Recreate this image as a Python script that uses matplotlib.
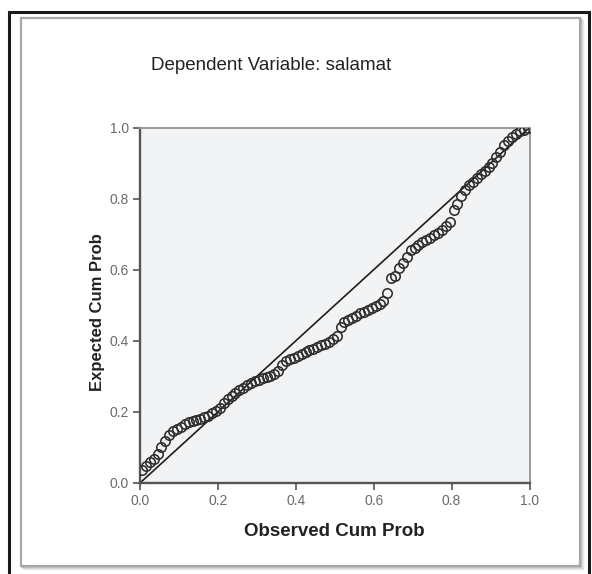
import matplotlib
matplotlib.use("Agg")
import matplotlib.pyplot as plt
from matplotlib.patches import Rectangle

plt.rcParams['font.family'] = ['Liberation Sans', 'DejaVu Sans']

# observed cumulative probability (x) and expected cumulative probability (y)
observed = [
    0.005, 0.015, 0.025, 0.035, 0.045, 0.055, 0.065, 0.075, 0.085, 0.095,
    0.105, 0.115, 0.125, 0.135, 0.145, 0.155, 0.165, 0.175, 0.185, 0.195,
    0.205, 0.215, 0.225, 0.235, 0.245, 0.255, 0.265, 0.275, 0.285, 0.295,
    0.305, 0.315, 0.325, 0.335, 0.345, 0.355, 0.365, 0.375, 0.385, 0.395,
    0.405, 0.415, 0.425, 0.435, 0.445, 0.455, 0.465, 0.475, 0.485, 0.495,
    0.505, 0.515, 0.525, 0.535, 0.545, 0.555, 0.565, 0.575, 0.585, 0.595,
    0.605, 0.615, 0.625, 0.635, 0.645, 0.655, 0.665, 0.675, 0.685, 0.695,
    0.705, 0.715, 0.725, 0.735, 0.745, 0.755, 0.765, 0.775, 0.785, 0.795,
    0.805, 0.815, 0.825, 0.835, 0.845, 0.855, 0.865, 0.875, 0.885, 0.895,
    0.905, 0.915, 0.925, 0.935, 0.945, 0.955, 0.965, 0.975, 0.985, 0.995,
]
expected = [
    0.036, 0.048, 0.058, 0.068, 0.082, 0.100, 0.118, 0.135, 0.145, 0.152,
    0.158, 0.166, 0.172, 0.175, 0.177, 0.180, 0.185, 0.189, 0.196, 0.203,
    0.212, 0.224, 0.235, 0.244, 0.253, 0.261, 0.268, 0.276, 0.281, 0.286,
    0.290, 0.294, 0.298, 0.301, 0.306, 0.315, 0.332, 0.343, 0.349, 0.353,
    0.358, 0.363, 0.369, 0.374, 0.378, 0.383, 0.388, 0.392, 0.398, 0.405,
    0.414, 0.440, 0.452, 0.459, 0.465, 0.471, 0.477, 0.482, 0.487, 0.492,
    0.498, 0.503, 0.512, 0.534, 0.578, 0.583, 0.605, 0.618, 0.635, 0.655,
    0.662, 0.670, 0.678, 0.684, 0.690, 0.697, 0.703, 0.712, 0.722, 0.735,
    0.768, 0.785, 0.808, 0.825, 0.838, 0.848, 0.858, 0.868, 0.878, 0.888,
    0.900, 0.916, 0.932, 0.950, 0.962, 0.972, 0.982, 0.989, 0.994, 0.998,
]
ticks = [0.0, 0.2, 0.4, 0.6, 0.8, 1.0]
tick_labels = ['0.0', '0.2', '0.4', '0.6', '0.8', '1.0']

W, H = 592, 574
fig = plt.figure(figsize=(W / 100, H / 100), dpi=100)
fig.patch.set_facecolor('white')

def px_rect(x0, y0, x1, y1, **kw):
    # rectangle given in image pixels (origin top-left)
    return Rectangle((x0 / W, 1 - y1 / H), (x1 - x0) / W, (y1 - y0) / H,
                     transform=fig.transFigure, zorder=-10, **kw)

# outer black border
fig.patches.append(px_rect(9, 12, 589, 580, fill=False, edgecolor='#1a1a1a', linewidth=2.2))
# soft shadow of the inner frame
for i, a in enumerate([0.18, 0.12, 0.07, 0.03]):
    fig.patches.append(px_rect(21 + i + 1, 18 + i + 1, 580 + i + 1, 566 + i + 1,
                               fill=False, edgecolor='black', alpha=a, linewidth=1.2))
fig.patches.append(px_rect(21, 18, 580, 566, facecolor='white', edgecolor='#a8a8a8', linewidth=1.6))

ax = fig.add_axes([140 / W, 1 - 483 / H, 389.5 / W, 355.5 / H])
ax.set_zorder(5)
ax.set_facecolor('#f2f3f5')

ax.plot([0, 1], [0, 1], color='#1e1e1e', linewidth=1.2, zorder=2)
ax.plot(observed, expected, linestyle='none', marker='o', markersize=6.8,
        markerfacecolor='none', markeredgecolor='#2e2e2e', markeredgewidth=1.15, zorder=3)

ax.set_xlim(0, 1)
ax.set_ylim(0, 1)
ax.set_xticks(ticks)
ax.set_yticks(ticks)
ax.set_xticklabels(tick_labels)
ax.set_yticklabels(tick_labels)
ax.tick_params(direction='out', length=5, width=1.2, color='#555555',
               labelcolor='#6a6a6a', labelsize=10, pad=3)

for side in ['left', 'bottom']:
    ax.spines[side].set_color('#555555')
    ax.spines[side].set_linewidth(1.7)
for side in ['top', 'right']:
    ax.spines[side].set_color('#9a9a9a')
    ax.spines[side].set_linewidth(1.4)

ax.set_xlabel('Observed Cum Prob', fontsize=13.5, fontweight='bold', color='#222222', labelpad=11)
ax.set_ylabel('Expected Cum Prob', fontsize=12, fontweight='bold', color='#222222')
ax.yaxis.set_label_coords(-0.09, 0.48)

fig.text(271 / W, 1 - 65 / H, 'Dependent Variable: salamat', fontsize=13.5,
         color='#222222', ha='center', va='center', zorder=6)

fig.savefig('out.png', dpi=100)
